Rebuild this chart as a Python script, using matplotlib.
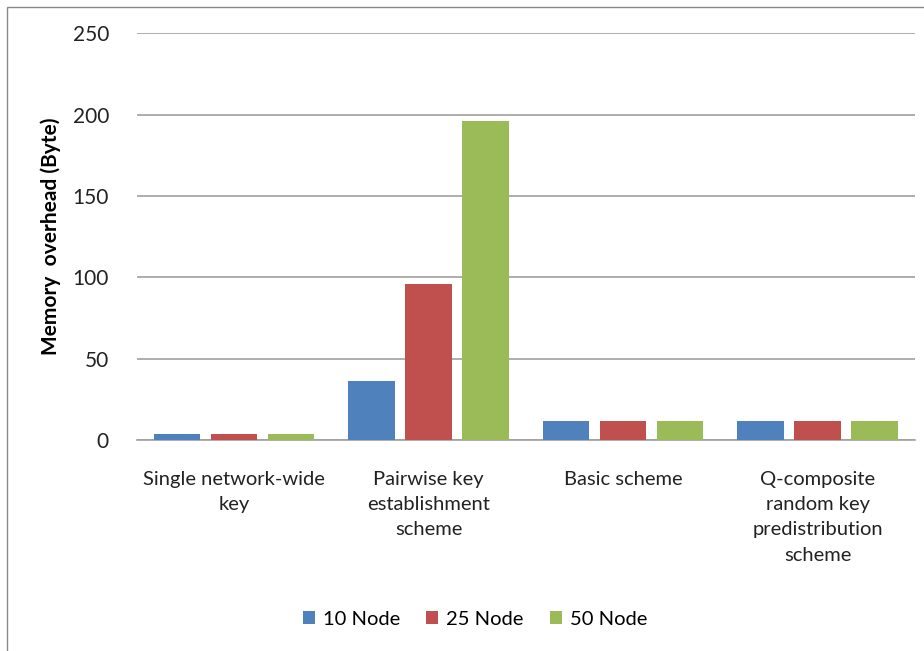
import numpy as np
import matplotlib.pyplot as plt
from matplotlib.patches import Rectangle

categories = [
    "Single network-wide\nkey",
    "Pairwise key\nestablishment\nscheme",
    "Basic scheme",
    "Q-composite\nrandom key\npredistribution\nscheme",
]
series_names = ["10 Node", "25 Node", "50 Node"]
node10 = [4, 36, 12, 12]
node25 = [4, 96, 12, 12]
node50 = [4, 196, 12, 12]
yticks = [0, 50, 100, 150, 200, 250]

colors = ["#4F81BD", "#C0504D", "#9BBB59"]

plt.rcParams["font.family"] = ["Lato", "DejaVu Sans"]

fig = plt.figure(figsize=(9.24, 6.51), dpi=100)
ax = fig.add_axes([0.148, 0.324, 0.842, 0.625])

x = np.arange(len(categories))
width = 0.237
step = 0.293
for i, (vals, name) in enumerate(zip([node10, node25, node50], series_names)):
    ax.bar(x + (i - 1) * step, vals, width=width, color=colors[i], label=name, zorder=3)

ax.set_xlim(-0.5, len(categories) - 0.5)
ax.set_ylim(0, 250)
ax.set_yticks(yticks)
ax.yaxis.grid(True, color="#A0A0A0", linewidth=1.2, zorder=0)
ax.set_axisbelow(True)
for s in ["top", "right", "left"]:
    ax.spines[s].set_visible(False)
ax.spines["bottom"].set_color("#A0A0A0")
ax.spines["bottom"].set_linewidth(1.2)
ax.tick_params(axis="y", length=0, pad=20, labelsize=15, labelcolor="#222222")
ax.tick_params(axis="x", length=0, pad=22, labelsize=14.5, labelcolor="#222222")
ax.set_xticks(x)
ax.set_xticklabels(categories, linespacing=1.6)
ax.set_ylabel("Memory  overhead (Byte)", fontsize=15, fontweight="bold", labelpad=8)

fig.legend(*ax.get_legend_handles_labels(), loc="center",
           bbox_to_anchor=(0.514, 0.049), ncol=3, frameon=False,
           fontsize=14.5, handlelength=0.6, handleheight=0.6, columnspacing=1.3,
           handletextpad=0.4)

# outer chart border
fig.patches.append(Rectangle((0.0075, -0.01), 1.0, 0.999,
                             transform=fig.transFigure, fill=False,
                             edgecolor="#888888", linewidth=1.0))

fig.savefig("out.png", dpi=100)
